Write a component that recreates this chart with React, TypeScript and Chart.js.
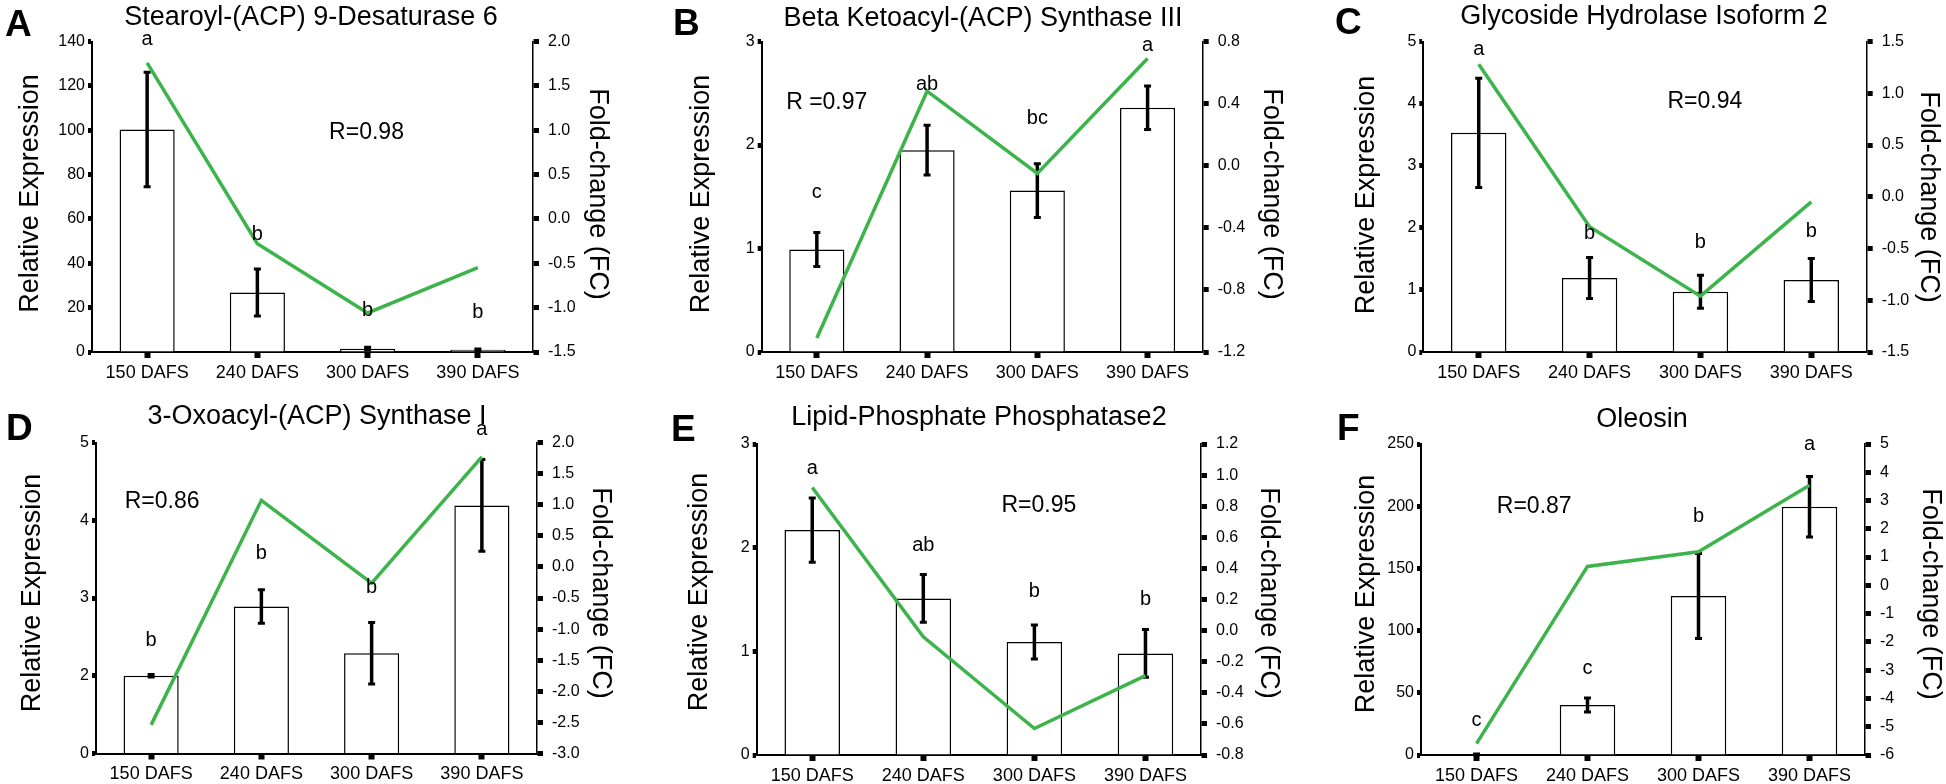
import React, { useEffect, useRef } from 'react';
import { Chart, registerables } from 'chart.js';

Chart.register(...registerables);

const FONT = '"Liberation Sans", Arial, Helvetica, sans-serif';
const GREEN = '#3cb44b';

const categories = ['150 DAFS', '240 DAFS', '300 DAFS', '390 DAFS'];

// ---------- Panel A ----------
const titleA = 'Stearoyl-(ACP) 9-Desaturase 6';
const exprA = [100.3, 26.8, 1.5, 1.0];
const errA = [25.8, 10.6, 0.6, 0.4];
const fcA = [1.76, -0.28, -1.06, -0.55];
const sigA = ['a', 'b', 'b', 'b'];
const sigPosA = [140.7, 53.2, 18.5, 17.8];
const rTextA = 'R=0.98';
const rPosA = [1.99, 99];
const leftAxisA = [0, 140, 20];
const rightAxisA = [-1.5, 2.0, 0.5];

// ---------- Panel B ----------
const titleB = 'Beta Ketoacyl-(ACP) Synthase III';
const exprB = [0.99, 1.95, 1.56, 2.36];
const errB = [0.165, 0.24, 0.26, 0.21];
const fcB = [-1.11, 0.48, -0.05, 0.69];
const sigB = ['c', 'ab', 'bc', 'a'];
const sigPosB = [1.54, 2.58, 2.26, 2.96];
const rTextB = 'R =0.97';
const rPosB = [0.09, 2.41];
const leftAxisB = [0, 3, 1];
const rightAxisB = [-1.2, 0.8, 0.4];

// ---------- Panel C ----------
const titleC = 'Glycoside Hydrolase Isoform 2';
const exprC = [3.53, 1.19, 0.97, 1.16];
const errC = [0.88, 0.33, 0.265, 0.345];
const fcC = [1.28, -0.29, -0.96, -0.05];
const sigC = ['a', 'b', 'b', 'b'];
const sigPosC = [4.87, 1.91, 1.77, 1.94];
const rTextC = 'R=0.94';
const rPosC = [2.04, 4.03];
const leftAxisC = [0, 5, 1];
const rightAxisC = [-1.5, 1.5, 0.5];

// ---------- Panel D ----------
const titleD = '3-Oxoacyl-(ACP) Synthase I';
const exprD = [2.0, 2.89, 2.29, 4.19];
const errD = [0.015, 0.215, 0.395, 0.59];
const fcD = [-2.54, 1.07, -0.26, 1.77];
const sigD = ['b', 'b', 'b', 'a'];
const sigPosD = [2.45, 3.57, 3.13, 5.17];
const rTextD = 'R=0.86';
const rPosD = [0.1, 4.24];
const leftAxisD = [1, 5, 1]; // broken axis: lowest tick is labelled "0"
const rightAxisD = [-3.0, 2.0, 0.5];

// ---------- Panel E ----------
const titleE = 'Lipid-Phosphate Phosphatase2';
const exprE = [2.17, 1.51, 1.09, 0.98];
const errE = [0.31, 0.23, 0.165, 0.23];
const fcE = [0.92, -0.04, -0.63, -0.29];
const sigE = ['a', 'ab', 'b', 'b'];
const sigPosE = [2.76, 2.02, 1.58, 1.5];
const rTextE = 'R=0.95';
const rPosE = [2.04, 2.41];
const leftAxisE = [0, 3, 1];
const rightAxisE = [-0.8, 1.2, 0.2];

// ---------- Panel F ----------
const titleF = 'Oleosin';
const exprF = [0.5, 40.2, 127.8, 199.6];
const errF = [0.3, 5.7, 34.2, 24.3];
const fcF = [-5.6, 0.67, 1.19, 3.54];
const sigF = ['c', 'c', 'b', 'a'];
const sigPosF = [27.5, 69.3, 191.5, 250];
const rTextF = 'R=0.87';
const rPosF = [0.52, 200];
const leftAxisF = [0, 250, 50];
const rightAxisF = [-6, 5, 1];

const yTitle = 'Relative Expression';
const fcTitle = 'Fold-change (FC)';

// ---------- geometry (absolute page pixels) ----------
type Geo = {
  x0: number; y0: number; w: number; L: number; R: number; T: number; B: number;
  letter: number[]; title: number[]; yTitle: number[]; fcTitle: number[];
};
const geoA: Geo = { x0: 0, y0: 0, w: 650, L: 92, R: 533, T: 41.5, B: 352, letter: [5, 36], title: [311, 25], yTitle: [31, 193.5], fcTitle: [597, 194] };
const geoB: Geo = { x0: 650, y0: 0, w: 646, L: 761.7, R: 1202.7, T: 41.5, B: 352, letter: [673, 35], title: [983, 26], yTitle: [702, 194], fcTitle: [1271, 194] };
const geoC: Geo = { x0: 1296, y0: 0, w: 650, L: 1423.3, R: 1866.7, T: 41.5, B: 352, letter: [1335, 34], title: [1644, 24], yTitle: [1366.5, 195], fcTitle: [1928, 197] };
const geoD: Geo = { x0: 0, y0: 392, w: 650, L: 96, R: 537, T: 442.5, B: 753.5, letter: [6, 440], title: [317, 424], yTitle: [33, 593], fcTitle: [600, 593] };
const geoE: Geo = { x0: 650, y0: 392, w: 646, L: 756.7, R: 1201, T: 444, B: 755, letter: [671, 441], title: [979, 425], yTitle: [700, 592], fcTitle: [1268, 593] };
const geoF: Geo = { x0: 1296, y0: 392, w: 650, L: 1421, R: 1865, T: 444, B: 755, letter: [1337, 440], title: [1642, 427], yTitle: [1367, 594], fcTitle: [1930, 594] };

type PanelSpec = {
  key: string; title: string; expr: number[]; err: number[]; fc: number[];
  sig: string[]; sigPos: number[]; rText: string; rPos: number[];
  left: number[]; right: number[]; rightDec: number; zeroLabelAtMin: boolean; geo: Geo;
};

const panels: PanelSpec[] = [
  { key: 'A', title: titleA, expr: exprA, err: errA, fc: fcA, sig: sigA, sigPos: sigPosA, rText: rTextA, rPos: rPosA, left: leftAxisA, right: rightAxisA, rightDec: 1, zeroLabelAtMin: false, geo: geoA },
  { key: 'B', title: titleB, expr: exprB, err: errB, fc: fcB, sig: sigB, sigPos: sigPosB, rText: rTextB, rPos: rPosB, left: leftAxisB, right: rightAxisB, rightDec: 1, zeroLabelAtMin: false, geo: geoB },
  { key: 'C', title: titleC, expr: exprC, err: errC, fc: fcC, sig: sigC, sigPos: sigPosC, rText: rTextC, rPos: rPosC, left: leftAxisC, right: rightAxisC, rightDec: 1, zeroLabelAtMin: false, geo: geoC },
  { key: 'D', title: titleD, expr: exprD, err: errD, fc: fcD, sig: sigD, sigPos: sigPosD, rText: rTextD, rPos: rPosD, left: leftAxisD, right: rightAxisD, rightDec: 1, zeroLabelAtMin: true, geo: geoD },
  { key: 'E', title: titleE, expr: exprE, err: errE, fc: fcE, sig: sigE, sigPos: sigPosE, rText: rTextE, rPos: rPosE, left: leftAxisE, right: rightAxisE, rightDec: 1, zeroLabelAtMin: false, geo: geoE },
  { key: 'F', title: titleF, expr: exprF, err: errF, fc: fcF, sig: sigF, sigPos: sigPosF, rText: rTextF, rPos: rPosF, left: leftAxisF, right: rightAxisF, rightDec: 0, zeroLabelAtMin: false, geo: geoF },
];

const PANEL_H = 392;

function buildConfig(p: PanelSpec): any {
  const g = p.geo;
  const panelPlugin = {
    id: 'panelDecor' + p.key,
    afterDatasetDraw(chart: any, args: any) {
      if (args.index !== 0) return;
      const ctx = chart.ctx;
      const xs = chart.scales.x;
      const ys = chart.scales.y;
      ctx.save();
      ctx.strokeStyle = '#000';
      p.expr.forEach((v, i) => {
        const x = xs.getPixelForValue(i);
        const yt = ys.getPixelForValue(v + p.err[i]);
        const yb = ys.getPixelForValue(v - p.err[i]);
        ctx.lineWidth = 3.5;
        ctx.beginPath();
        ctx.moveTo(x, yt);
        ctx.lineTo(x, yb);
        ctx.stroke();
        ctx.lineWidth = 3;
        ctx.beginPath();
        ctx.moveTo(x - 3.5, yt);
        ctx.lineTo(x + 3.5, yt);
        ctx.moveTo(x - 3.5, yb);
        ctx.lineTo(x + 3.5, yb);
        ctx.stroke();
      });
      ctx.restore();
    },
    afterDraw(chart: any) {
      const ctx = chart.ctx;
      const xs = chart.scales.x;
      const ys = chart.scales.y;
      ctx.save();
      ctx.fillStyle = '#000';
      // panel letter
      ctx.font = `bold 37px ${FONT}`;
      ctx.textAlign = 'left';
      ctx.textBaseline = 'alphabetic';
      ctx.fillText(p.key, g.letter[0] - g.x0, g.letter[1] - g.y0);
      // title
      ctx.font = `27px ${FONT}`;
      ctx.textAlign = 'center';
      ctx.fillText(p.title, g.title[0] - g.x0, g.title[1] - g.y0);
      // left axis title
      ctx.save();
      ctx.translate(g.yTitle[0] - g.x0, g.yTitle[1] - g.y0);
      ctx.rotate(-Math.PI / 2);
      ctx.textBaseline = 'middle';
      ctx.fillText(yTitle, 0, 0);
      ctx.restore();
      // right axis title
      ctx.save();
      ctx.translate(g.fcTitle[0] - g.x0, g.fcTitle[1] - g.y0);
      ctx.rotate(Math.PI / 2);
      ctx.textBaseline = 'middle';
      ctx.fillText(fcTitle, 0, 0);
      ctx.restore();
      // R text
      ctx.font = `23px ${FONT}`;
      ctx.textBaseline = 'middle';
      ctx.textAlign = 'center';
      const x0p = xs.getPixelForValue(0);
      const x1p = xs.getPixelForValue(1);
      ctx.fillText(p.rText, x0p + (x1p - x0p) * p.rPos[0], ys.getPixelForValue(p.rPos[1]));
      // significance letters
      ctx.font = `20px ${FONT}`;
      p.sig.forEach((s, i) => {
        ctx.fillText(s, xs.getPixelForValue(i), ys.getPixelForValue(p.sigPos[i]));
      });
      ctx.restore();
    },
  };

  const fmtRight = (v: number) => {
    const n = Math.abs(v) < 1e-9 ? 0 : v;
    return n.toFixed(p.rightDec);
  };
  const fmtLeft = (v: number) => {
    if (p.zeroLabelAtMin && Math.abs(v - p.left[0]) < 1e-9) return '0';
    return String(Math.round(v * 1000) / 1000);
  };

  const barDs: any = {
    type: 'bar',
    data: p.expr,
    yAxisID: 'y',
    backgroundColor: '#ffffff',
    borderColor: '#000000',
    borderWidth: 1.5,
    barPercentage: 0.5,
    categoryPercentage: 1.0,
    order: 1,
  };
  if (p.zeroLabelAtMin) barDs.base = p.left[0];

  return {
    type: 'bar',
    data: {
      labels: categories,
      datasets: [
        barDs,
        {
          type: 'line',
          data: p.fc,
          yAxisID: 'y1',
          borderColor: GREEN,
          backgroundColor: GREEN,
          borderWidth: 3.5,
          pointRadius: 0,
          tension: 0,
          fill: false,
          order: 0,
        },
      ],
    },
    options: {
      animation: false,
      responsive: false,
      maintainAspectRatio: false,
      events: [],
      layout: { padding: { left: 0, right: 0, top: g.T - g.y0, bottom: 0 } },
      plugins: { legend: { display: false }, tooltip: { enabled: false }, title: { display: false } },
      scales: {
        x: {
          type: 'category',
          offset: true,
          grid: { offset: false, drawOnChartArea: false, drawTicks: true, tickLength: 6, tickWidth: 6, tickColor: '#000' },
          border: { display: true, color: '#000', width: 2 },
          ticks: { color: '#000', font: { family: FONT, size: 18 }, padding: 4, maxRotation: 0, autoSkip: false },
          afterFit: (s: any) => { s.height = g.y0 + PANEL_H - g.B; },
        },
        y: {
          type: 'linear',
          position: 'left',
          min: p.left[0],
          max: p.left[1],
          grid: { drawOnChartArea: false, drawTicks: true, tickLength: 4, tickWidth: 5, tickColor: '#000' },
          border: { display: true, color: '#000', width: 2 },
          ticks: { stepSize: p.left[2], color: '#000', font: { family: FONT, size: 16 }, padding: 3, autoSkip: false, callback: (v: any) => fmtLeft(Number(v)) },
          afterFit: (s: any) => { s.width = g.L - g.x0; },
        },
        y1: {
          type: 'linear',
          position: 'right',
          min: p.right[0],
          max: p.right[1],
          grid: { drawOnChartArea: false, drawTicks: true, tickLength: 6, tickWidth: 5, tickColor: '#000' },
          border: { display: true, color: '#000', width: 1.5 },
          ticks: { stepSize: p.right[2], color: '#000', font: { family: FONT, size: 16 }, padding: 9, autoSkip: false, callback: (v: any) => fmtRight(Number(v)) },
          afterFit: (s: any) => { s.width = g.x0 + g.w - g.R; },
        },
      },
    },
    plugins: [panelPlugin],
  };
}

function Panel({ p }: { p: PanelSpec }) {
  const ref = useRef<HTMLCanvasElement | null>(null);
  useEffect(() => {
    if (!ref.current) return;
    const chart = new Chart(ref.current, buildConfig(p));
    return () => chart.destroy();
  }, [p]);
  const g = p.geo;
  return (
    <canvas
      ref={ref}
      width={g.w}
      height={PANEL_H}
      style={{ position: 'absolute', left: g.x0, top: g.y0, width: g.w, height: PANEL_H, display: 'block' }}
    />
  );
}

export default function App() {
  return (
    <div style={{ position: 'absolute', left: 0, top: 0, width: 1946, height: 784, background: '#ffffff', overflow: 'hidden' }}>
      {panels.map((p) => (
        <Panel key={p.key} p={p} />
      ))}
    </div>
  );
}
